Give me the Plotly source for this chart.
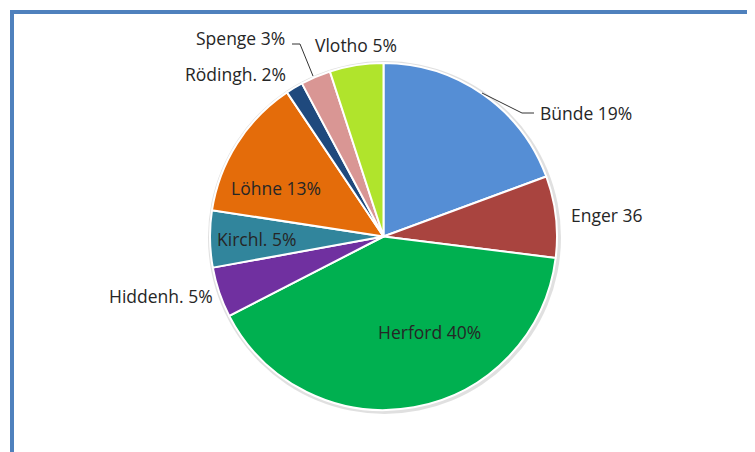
import plotly.graph_objects as go

labels = ["Bünde", "Enger", "Herford", "Hiddenh.", "Kirchl.", "Löhne", "Rödingh.", "Spenge", "Vlotho"]
values = [19.4, 7.6, 40.5, 4.7, 5.3, 13.2, 1.6, 2.8, 5.0]
label_texts = ["Bünde 19%", "Enger 36", "Herford 40%", "Hiddenh. 5%", "Kirchl. 5%",
               "Löhne 13%", "Rödingh. 2%", "Spenge 3%", "Vlotho 5%"]
colors = ["#558ED5", "#A9443F", "#00B050", "#7030A0", "#31859C",
          "#E46C0A", "#1F497D", "#D99694", "#B0E42C"]

# label anchor positions (pixels in the 755x452 picture)
label_pos = [(586, 113), (607, 215), (429, 332), (161, 296), (257, 239),
             (276, 188), (235, 74), (240, 38), (356, 45)]

W, H = 755, 452
OFF = 8  # browser body margin


def px(x):
    return (x - OFF) / W


def py(y):
    return 1 - (y - OFF) / H


fig = go.Figure(go.Pie(
    labels=labels, values=values,
    textinfo="none",
    sort=False, direction="clockwise", rotation=0,
    marker=dict(colors=colors, line=dict(color="white", width=2)),
    domain=dict(x=[px(210), px(557)], y=[py(410), py(63)]),
    automargin=False, showlegend=False, hoverinfo="label+percent",
))

# soft shadow behind the pie
fig.add_shape(type="circle", xref="paper", yref="paper", layer="below",
              x0=px(208), x1=px(561), y0=py(414), y1=py(61),
              line=dict(width=0), fillcolor="rgba(0,0,0,0.12)")

for t, (x, y) in zip(label_texts, label_pos):
    fig.add_annotation(text=t, x=px(x), y=py(y), xref="paper", yref="paper",
                       showarrow=False, xanchor="center", yanchor="middle",
                       font=dict(family="Open Sans", size=17.5, color="#262626"))

# leader lines
fig.add_shape(type="path", xref="paper", yref="paper",
              path=f"M {px(482)},{py(93)} L {px(522)},{py(113)} L {px(534)},{py(113)}",
              line=dict(color="#333333", width=1))
fig.add_shape(type="path", xref="paper", yref="paper",
              path=f"M {px(292)},{py(44)} L {px(300)},{py(44)} L {px(313)},{py(76)}",
              line=dict(color="#333333", width=1))

# frame
fig.add_shape(type="rect", xref="paper", yref="paper",
              x0=px(12), x1=px(753), y0=-0.1, y1=py(12),
              line=dict(color="#4F81BD", width=4), fillcolor="rgba(0,0,0,0)")

fig.update_layout(width=W, height=H, margin=dict(l=0, r=0, t=0, b=0),
                  paper_bgcolor="white", plot_bgcolor="white")
fig.write_html("out.html")
